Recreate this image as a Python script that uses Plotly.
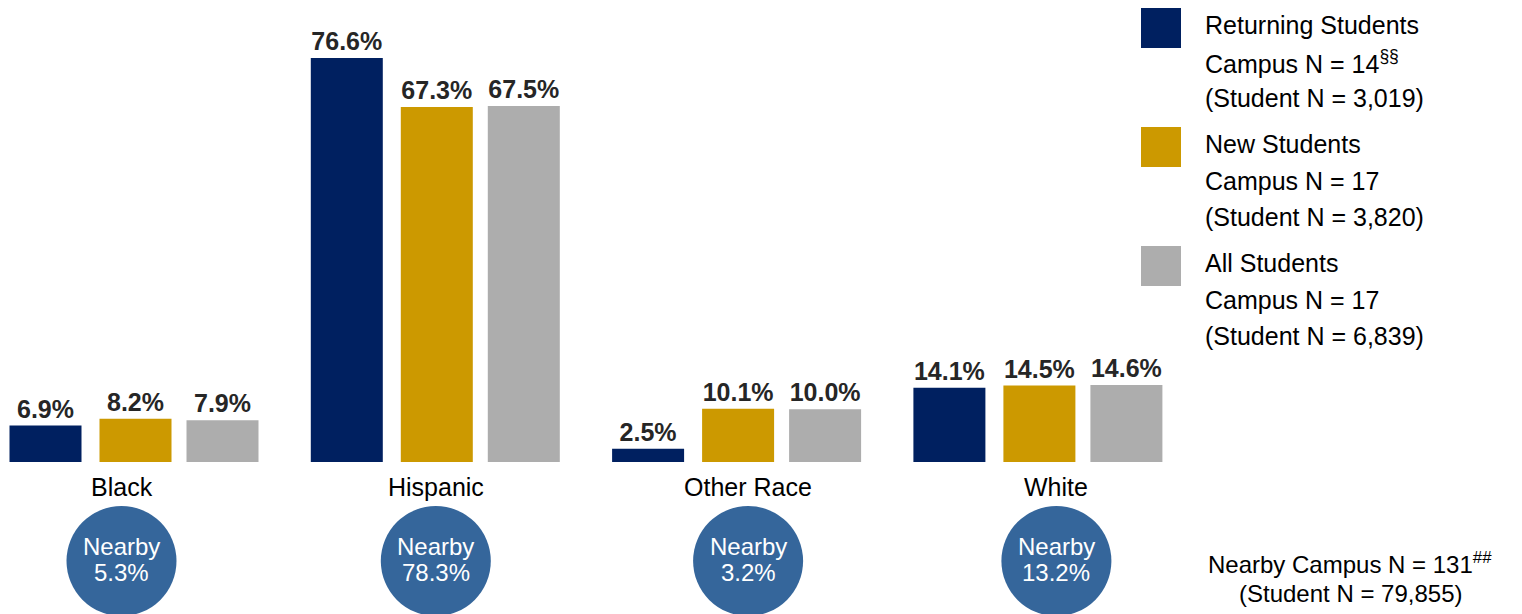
import plotly.graph_objects as go

categories = ["Black", "Hispanic", "Other Race", "White"]
returning = [6.9, 76.6, 2.5, 14.1]
new_students = [8.2, 67.3, 10.1, 14.5]
all_students = [7.9, 67.5, 10.0, 14.6]
nearby = [5.3, 78.3, 3.2, 13.2]

series_names = ["Returning Students", "New Students", "All Students"]
campus_n = ["14<sup>§§</sup>", "17", "17"]
student_n = ["3,019", "3,820", "6,839"]
nearby_campus_n = "131<sup>##</sup>"
nearby_student_n = "79,855"

colors = ["#002060", "#CC9900", "#ADADAD"]
circle_color = "#35669B"
FONT = "Liberation Sans, Arial, sans-serif"

OFF = 8  # page body margin
W, H = 1522 - OFF, 614 - OFF


def fx(px):
    return (px - OFF) / W


def fy(py):
    return 1 - (py - OFF) / H


unit_px = 301.3
first_center = 135.5 - OFF
r0 = -first_center / unit_px
r1 = r0 + W / unit_px
bw = 72 / unit_px
centers_px = [-90, 0, 87]
label_shift = [-14, -1, 10, 17]

fig = go.Figure()
for k, (name, vals) in enumerate(zip(series_names, [returning, new_students, all_students])):
    fig.add_trace(go.Bar(
        x=categories, y=vals, name=name,
        marker=dict(color=colors[k], line=dict(width=0)),
        width=bw, offset=centers_px[k] / unit_px - bw / 2,
        text=[f"{v:.1f}%" for v in vals],
        texttemplate="<b>%{text}</b>",
        textposition="outside",
        constraintext="none",
        textfont=dict(family=FONT, size=25, color="#262626"),
        cliponaxis=False, showlegend=False,
    ))

annotations = []
shapes = []
circle_cy = 561
for i, cat in enumerate(categories):
    annotations.append(dict(x=cat, xref="x", xshift=label_shift[i], y=fy(487), yref="paper",
                            text=cat, showarrow=False, xanchor="center", yanchor="middle",
                            font=dict(family=FONT, size=25, color="#000000")))
    shapes.append(dict(type="circle", xref="x", yref="paper", xsizemode="pixel", ysizemode="pixel",
                       xanchor=i, yanchor=fy(circle_cy),
                       x0=label_shift[i] - 55, x1=label_shift[i] + 55, y0=-55, y1=55,
                       fillcolor=circle_color, line=dict(width=0), layer="above"))
    annotations.append(dict(x=cat, xref="x", xshift=label_shift[i], y=fy(546), yref="paper",
                            text="Nearby", showarrow=False, xanchor="center", yanchor="middle",
                            font=dict(family=FONT, size=24, color="#FFFFFF")))
    annotations.append(dict(x=cat, xref="x", xshift=label_shift[i], y=fy(572), yref="paper",
                            text=f"{nearby[i]:.1f}%", showarrow=False, xanchor="center", yanchor="middle",
                            font=dict(family=FONT, size=24, color="#FFFFFF")))

# manual legend
for k in range(3):
    top = 8 + 119 * k
    shapes.append(dict(type="rect", xref="paper", yref="paper",
                       x0=fx(1141), x1=fx(1181), y0=fy(top), y1=fy(top + 40),
                       fillcolor=colors[k], line=dict(width=0)))
    lines = [series_names[k], f"Campus N = {campus_n[k]}", f"(Student N = {student_n[k]})"]
    for j, t in enumerate(lines):
        cy = 25 + 119 * k + 36.5 * j
        annotations.append(dict(x=fx(1203), xref="paper", y=fy(cy), yref="paper",
                                text=t, showarrow=False, xanchor="left", yanchor="middle",
                                font=dict(family=FONT, size=25, color="#000000")))

annotations.append(dict(x=fx(1350), xref="paper", y=fy(563), yref="paper",
                        text=f"Nearby Campus N = {nearby_campus_n}", showarrow=False,
                        xanchor="center", yanchor="middle",
                        font=dict(family=FONT, size=24, color="#000000")))
annotations.append(dict(x=fx(1350), xref="paper", y=fy(593), yref="paper",
                        text=f"(Student N = {nearby_student_n})", showarrow=False,
                        xanchor="center", yanchor="middle",
                        font=dict(family=FONT, size=24, color="#000000")))

fig.update_layout(
    width=W, height=H,
    margin=dict(l=0, r=0, t=0, b=0),
    paper_bgcolor="white", plot_bgcolor="white",
    barmode="overlay",
    xaxis=dict(type="category", categoryorder="array", categoryarray=categories,
               range=[r0, r1], domain=[0, 1], showticklabels=False, showgrid=False,
               zeroline=False, showline=False, ticks=""),
    yaxis=dict(range=[0, (462 - OFF) / (404 / 76.6)], domain=[(614 - 462) / H, 1],
               showticklabels=False, showgrid=False, zeroline=False, showline=False, ticks=""),
    shapes=shapes, annotations=annotations,
    font=dict(family=FONT),
)

fig.write_html("out.html")
